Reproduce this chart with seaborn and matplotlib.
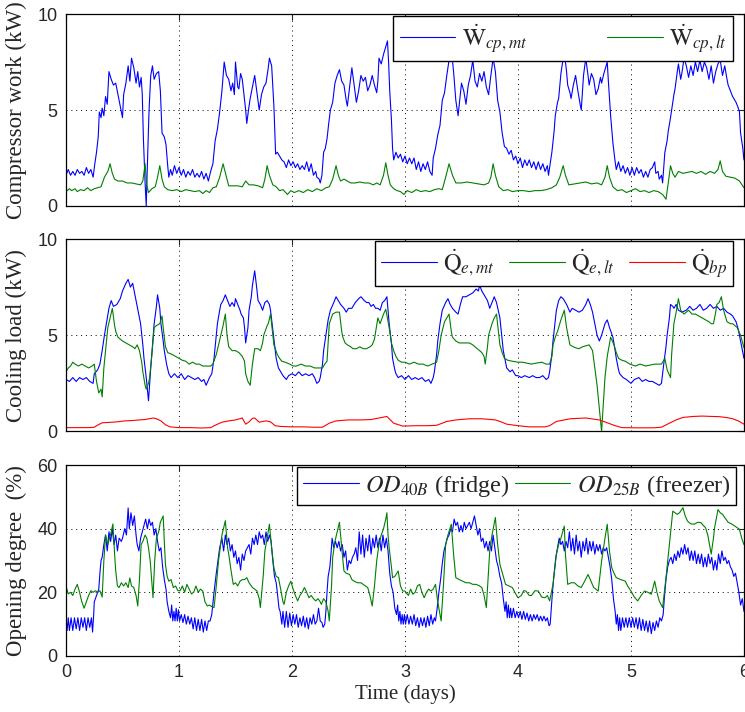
import matplotlib
matplotlib.use("Agg")
import matplotlib.pyplot as plt
import seaborn as sns

# compressor work (kW), (day, value)
w_cp_mt = [(0.00,1.6),(0.02,1.9),(0.04,1.6),(0.06,1.8),(0.08,1.6),(0.10,1.9),(0.12,1.7),(0.14,1.8),(0.16,1.6),(0.18,2.0),(0.20,1.7),(0.22,1.9),(0.24,1.5),(0.255,2.2),(0.27,2.8),(0.285,3.6),(0.295,4.9),(0.31,4.6),(0.32,5.1),(0.335,4.7),(0.35,5.7),(0.365,5.3),(0.38,7.0),(0.40,6.6),(0.42,6.3),(0.44,6.4),(0.46,5.8),(0.48,5.2),(0.50,4.6),(0.51,5.8),(0.53,6.4),(0.55,7.3),(0.565,6.5),(0.58,7.7),(0.60,7.2),(0.62,6.4),(0.635,7.0),(0.65,6.2),(0.665,6.7),(0.675,5.8),(0.685,3.5),(0.70,1.2),(0.71,0.0),(0.72,2.1),(0.735,5.0),(0.75,6.8),(0.765,7.3),(0.78,6.6),(0.80,6.9),(0.82,7.0),(0.835,6.0),(0.85,3.8),(0.87,3.6),(0.885,3.2),(0.90,2.1),(0.91,1.5),(0.925,1.9),(0.94,1.6),(0.96,2.1),(0.98,1.7),(1.00,2.0),(1.02,1.6),(1.04,1.9),(1.06,1.5),(1.08,1.8),(1.10,1.6),(1.12,1.9),(1.14,1.5),(1.16,1.7),(1.18,1.5),(1.20,1.8),(1.22,1.4),(1.24,1.7),(1.26,1.3),(1.28,1.8),(1.30,2.2),(1.32,3.4),(1.34,4.0),(1.36,4.9),(1.38,6.0),(1.40,7.5),(1.42,6.8),(1.44,6.6),(1.46,6.0),(1.475,6.4),(1.49,5.8),(1.50,7.5),(1.52,6.2),(1.53,6.1),(1.545,6.9),(1.56,6.6),(1.58,5.5),(1.59,5.0),(1.60,4.3),(1.615,5.0),(1.63,5.6),(1.65,6.2),(1.67,6.8),(1.69,5.9),(1.71,5.0),(1.73,5.8),(1.75,6.2),(1.77,6.4),(1.79,7.2),(1.80,7.7),(1.82,7.3),(1.84,5.2),(1.855,2.7),(1.87,2.8),(1.89,2.6),(1.91,2.4),(1.93,2.3),(1.95,2.0),(1.97,2.4),(1.99,2.1),(2.01,2.3),(2.03,2.0),(2.05,2.2),(2.07,1.9),(2.09,2.1),(2.11,1.9),(2.13,2.3),(2.15,1.8),(2.17,2.2),(2.19,1.6),(2.21,1.8),(2.22,1.5),(2.24,1.4),(2.25,1.2),(2.265,1.6),(2.28,2.8),(2.295,3.0),(2.31,3.5),(2.325,4.3),(2.34,5.0),(2.36,5.4),(2.38,6.4),(2.40,6.8),(2.42,7.1),(2.44,6.5),(2.46,6.3),(2.48,5.5),(2.49,5.2),(2.51,6.2),(2.53,7.2),(2.55,6.3),(2.57,5.4),(2.59,6.0),(2.61,6.8),(2.63,6.5),(2.65,6.7),(2.67,6.0),(2.69,6.3),(2.71,6.8),(2.73,6.3),(2.75,5.9),(2.76,6.5),(2.77,7.7),(2.79,7.4),(2.81,7.9),(2.83,8.3),(2.845,8.6),(2.855,7.5),(2.865,6.0),(2.88,4.5),(2.89,3.0),(2.90,2.4),(2.92,2.8),(2.94,2.5),(2.96,2.7),(2.98,2.3),(3.00,2.6),(3.02,2.2),(3.04,2.5),(3.06,2.2),(3.08,2.5),(3.10,1.9),(3.12,2.3),(3.14,1.8),(3.16,2.2),(3.18,1.9),(3.20,2.3),(3.22,1.8),(3.24,1.6),(3.25,2.5),(3.27,3.0),(3.29,3.7),(3.31,4.2),(3.33,5.5),(3.35,5.9),(3.37,6.8),(3.39,7.6),(3.41,8.2),(3.43,7.0),(3.45,5.5),(3.47,4.7),(3.49,5.8),(3.50,6.4),(3.52,6.0),(3.54,5.3),(3.56,6.3),(3.58,6.8),(3.60,7.6),(3.62,6.5),(3.64,6.2),(3.66,6.9),(3.68,6.5),(3.70,7.0),(3.72,6.2),(3.74,5.8),(3.76,6.8),(3.78,7.7),(3.80,7.0),(3.82,5.5),(3.84,4.9),(3.86,3.8),(3.88,3.1),(3.90,3.0),(3.92,2.7),(3.94,2.9),(3.96,2.4),(3.98,2.6),(4.00,2.2),(4.02,2.5),(4.04,2.0),(4.06,2.4),(4.08,2.1),(4.10,2.4),(4.12,2.0),(4.14,2.3),(4.16,1.9),(4.18,2.3),(4.20,1.9),(4.22,2.2),(4.24,1.8),(4.26,2.1),(4.27,1.6),(4.29,2.4),(4.30,2.8),(4.32,3.9),(4.33,4.7),(4.35,5.4),(4.36,5.6),(4.38,6.9),(4.39,7.3),(4.41,8.0),(4.43,7.0),(4.44,6.3),(4.46,5.9),(4.47,5.6),(4.49,6.3),(4.51,6.8),(4.53,6.0),(4.55,5.3),(4.56,5.0),(4.58,6.8),(4.60,7.7),(4.62,6.8),(4.63,6.3),(4.65,6.9),(4.67,6.6),(4.69,5.8),(4.71,6.1),(4.73,6.7),(4.74,6.4),(4.76,6.9),(4.79,7.5),(4.80,6.5),(4.82,4.7),(4.84,3.3),(4.86,2.3),(4.87,1.9),(4.89,2.3),(4.91,1.8),(4.93,2.1),(4.95,1.7),(4.97,2.0),(4.99,1.6),(5.01,2.0),(5.03,1.6),(5.05,2.0),(5.07,1.7),(5.09,1.9),(5.11,1.5),(5.13,1.8),(5.15,1.5),(5.17,1.9),(5.19,2.0),(5.21,2.3),(5.22,1.7),(5.24,1.8),(5.25,1.4),(5.27,1.6),(5.28,1.2),(5.29,2.0),(5.30,2.8),(5.32,3.4),(5.33,3.9),(5.35,4.6),(5.36,5.0),(5.38,5.8),(5.39,6.1),(5.41,7.0),(5.42,7.4),(5.44,6.6),(5.45,6.9),(5.47,7.7),(5.49,7.3),(5.51,6.7),(5.53,7.3),(5.55,6.8),(5.57,7.5),(5.59,7.0),(5.61,7.6),(5.63,7.0),(5.65,7.5),(5.67,7.2),(5.69,6.6),(5.71,7.3),(5.73,6.4),(5.75,7.0),(5.77,7.4),(5.79,7.6),(5.81,6.8),(5.83,7.3),(5.85,6.6),(5.86,6.3),(5.88,6.0),(5.90,5.7),(5.92,5.5),(5.93,5.4),(5.95,5.1),(5.96,4.9),(5.97,3.8),(5.99,3.0),(6.00,2.4)]
w_cp_lt = [(0.00,0.75),(0.03,0.9),(0.05,0.8),(0.08,0.9),(0.10,0.75),(0.13,0.85),(0.16,0.8),(0.19,0.95),(0.22,0.8),(0.25,0.9),(0.28,0.95),(0.31,1.0),(0.34,1.5),(0.37,1.8),(0.39,2.2),(0.41,1.7),(0.43,1.4),(0.46,1.3),(0.50,1.3),(0.54,1.2),(0.58,1.2),(0.62,1.15),(0.66,1.1),(0.68,1.3),(0.70,2.2),(0.715,1.1),(0.73,0.7),(0.76,0.9),(0.79,1.0),(0.81,1.5),(0.83,2.1),(0.85,1.4),(0.87,1.0),(0.90,0.85),(0.94,0.8),(0.98,0.85),(1.02,0.75),(1.06,0.85),(1.10,0.8),(1.14,0.75),(1.18,0.8),(1.21,0.65),(1.24,0.8),(1.27,0.7),(1.30,0.95),(1.33,1.0),(1.36,1.5),(1.39,2.2),(1.42,1.5),(1.44,1.05),(1.48,1.05),(1.52,1.05),(1.56,1.0),(1.59,1.3),(1.62,1.1),(1.66,1.1),(1.70,1.05),(1.74,0.95),(1.76,1.4),(1.78,2.1),(1.80,1.6),(1.83,1.1),(1.86,1.0),(1.89,0.8),(1.92,0.85),(1.96,0.6),(1.99,0.8),(2.02,0.7),(2.06,0.8),(2.10,0.7),(2.14,0.85),(2.18,0.75),(2.22,0.9),(2.26,0.8),(2.30,0.95),(2.33,1.0),(2.36,1.4),(2.39,2.1),(2.41,1.6),(2.43,1.3),(2.46,1.4),(2.49,1.3),(2.52,1.2),(2.56,1.2),(2.60,1.25),(2.64,1.2),(2.68,1.2),(2.72,1.1),(2.75,1.2),(2.78,1.1),(2.81,1.6),(2.83,2.25),(2.85,1.6),(2.87,1.1),(2.90,0.9),(2.93,0.8),(2.96,0.75),(2.99,0.6),(3.02,0.8),(3.06,0.7),(3.10,0.85),(3.14,0.75),(3.18,0.8),(3.22,0.75),(3.26,0.85),(3.30,0.9),(3.33,0.85),(3.36,1.5),(3.39,2.2),(3.42,1.6),(3.45,1.2),(3.50,1.2),(3.55,1.25),(3.60,1.2),(3.65,1.15),(3.70,1.1),(3.74,1.2),(3.76,1.5),(3.78,2.2),(3.80,1.6),(3.83,1.0),(3.87,0.8),(3.91,0.85),(3.95,0.75),(4.00,0.8),(4.05,0.8),(4.10,0.75),(4.15,0.8),(4.20,0.8),(4.25,0.85),(4.30,0.95),(4.34,1.1),(4.37,1.5),(4.40,2.1),(4.42,1.6),(4.45,1.1),(4.50,1.15),(4.55,1.2),(4.60,1.25),(4.65,1.15),(4.70,1.2),(4.74,1.1),(4.77,1.5),(4.79,2.1),(4.81,1.5),(4.84,1.0),(4.88,0.8),(4.92,0.85),(4.96,0.7),(5.00,0.8),(5.04,0.9),(5.08,0.75),(5.12,0.8),(5.16,0.7),(5.20,0.8),(5.24,0.75),(5.28,0.6),(5.31,0.35),(5.33,1.2),(5.35,2.1),(5.37,1.7),(5.39,1.5),(5.42,1.8),(5.46,1.7),(5.50,1.75),(5.54,1.8),(5.58,1.7),(5.62,1.8),(5.66,1.65),(5.70,1.8),(5.74,1.7),(5.77,1.9),(5.79,2.35),(5.81,1.8),(5.84,1.55),(5.88,1.5),(5.92,1.45),(5.96,1.3),(6.00,0.95)]

# cooling load (kW)
q_e_mt = [(0.00,2.7),(0.03,2.6),(0.06,2.8),(0.09,2.6),(0.12,2.8),(0.15,2.7),(0.18,2.8),(0.21,2.6),(0.24,2.5),(0.25,3.0),(0.28,3.2),(0.30,3.5),(0.32,4.2),(0.34,5.0),(0.36,5.7),(0.38,6.4),(0.40,6.8),(0.42,6.5),(0.45,6.6),(0.48,6.9),(0.50,7.3),(0.53,7.7),(0.55,7.9),(0.57,7.5),(0.59,7.7),(0.61,7.1),(0.62,6.8),(0.64,6.2),(0.66,5.6),(0.68,4.5),(0.69,3.8),(0.71,2.8),(0.73,1.6),(0.75,3.3),(0.77,4.8),(0.78,5.6),(0.80,6.5),(0.81,7.1),(0.83,6.4),(0.84,5.6),(0.86,4.7),(0.87,4.2),(0.89,3.5),(0.91,3.0),(0.93,2.8),(0.96,3.0),(0.99,2.8),(1.02,3.0),(1.05,2.7),(1.08,2.9),(1.11,2.8),(1.14,2.7),(1.17,2.8),(1.20,2.6),(1.22,2.7),(1.24,2.4),(1.27,2.8),(1.29,3.0),(1.31,3.8),(1.33,5.0),(1.34,5.6),(1.36,6.3),(1.37,6.6),(1.39,6.8),(1.41,7.1),(1.43,6.8),(1.45,6.5),(1.47,6.7),(1.49,6.5),(1.50,6.9),(1.52,6.6),(1.54,6.3),(1.55,6.1),(1.57,5.9),(1.58,5.4),(1.59,4.6),(1.61,5.4),(1.62,6.3),(1.64,7.0),(1.65,7.6),(1.67,8.35),(1.685,7.6),(1.70,6.8),(1.72,6.6),(1.74,6.3),(1.76,6.7),(1.78,6.8),(1.80,6.6),(1.81,6.3),(1.83,5.3),(1.86,3.8),(1.88,3.3),(1.90,3.1),(1.92,2.9),(1.95,2.7),(1.97,2.9),(2.00,3.0),(2.03,2.9),(2.06,3.1),(2.09,2.9),(2.12,3.0),(2.15,2.9),(2.18,3.0),(2.20,2.8),(2.22,2.5),(2.24,2.6),(2.25,2.8),(2.27,3.5),(2.28,4.2),(2.30,5.0),(2.32,5.8),(2.34,6.3),(2.37,6.7),(2.39,7.0),(2.41,6.8),(2.43,6.6),(2.46,6.4),(2.48,6.2),(2.50,6.4),(2.53,6.4),(2.56,6.7),(2.59,6.9),(2.61,7.0),(2.64,6.8),(2.66,6.7),(2.68,6.7),(2.70,6.5),(2.72,6.6),(2.74,6.4),(2.76,6.4),(2.78,6.3),(2.80,6.7),(2.82,6.8),(2.84,7.0),(2.86,5.6),(2.88,4.6),(2.89,3.8),(2.91,3.2),(2.92,3.0),(2.94,2.8),(2.97,2.9),(3.00,2.7),(3.03,2.9),(3.06,2.7),(3.09,2.8),(3.12,2.7),(3.15,2.8),(3.18,2.6),(3.21,2.7),(3.23,2.5),(3.25,2.8),(3.26,3.1),(3.28,4.0),(3.29,4.7),(3.31,5.6),(3.33,6.3),(3.36,6.7),(3.38,6.9),(3.40,6.6),(3.42,6.4),(3.45,6.2),(3.47,6.1),(3.49,6.6),(3.51,7.0),(3.54,7.0),(3.57,7.1),(3.60,7.2),(3.63,7.4),(3.65,7.3),(3.66,7.6),(3.68,7.3),(3.70,7.1),(3.73,6.8),(3.75,6.4),(3.77,6.7),(3.79,7.0),(3.81,6.7),(3.84,5.9),(3.86,4.8),(3.87,4.2),(3.89,3.6),(3.90,3.3),(3.93,3.1),(3.95,3.2),(3.98,2.9),(4.00,2.9),(4.03,2.8),(4.06,2.9),(4.10,2.8),(4.13,2.9),(4.16,2.8),(4.19,2.8),(4.22,2.9),(4.25,2.7),(4.27,2.8),(4.28,3.1),(4.30,4.0),(4.31,4.7),(4.33,5.8),(4.34,6.3),(4.36,6.8),(4.38,7.0),(4.40,6.9),(4.43,6.6),(4.46,6.2),(4.48,6.4),(4.51,6.3),(4.54,6.2),(4.57,6.3),(4.60,6.6),(4.62,6.9),(4.64,6.6),(4.66,6.2),(4.68,5.6),(4.70,5.0),(4.72,4.7),(4.74,5.0),(4.75,5.2),(4.77,5.6),(4.79,5.8),(4.81,5.4),(4.84,4.9),(4.86,4.2),(4.87,3.8),(4.89,3.2),(4.90,3.0),(4.93,2.8),(4.96,2.7),(4.98,2.6),(5.00,2.5),(5.03,2.7),(5.07,2.8),(5.10,2.6),(5.13,2.7),(5.16,2.6),(5.19,2.6),(5.22,2.5),(5.25,2.4),(5.27,2.5),(5.29,3.5),(5.31,4.4),(5.32,5.0),(5.34,5.9),(5.35,6.6),(5.37,6.5),(5.38,6.4),(5.40,6.6),(5.42,6.3),(5.45,6.2),(5.49,6.3),(5.52,6.5),(5.55,6.3),(5.58,6.4),(5.61,6.6),(5.64,6.3),(5.67,6.4),(5.70,6.6),(5.73,6.4),(5.76,6.5),(5.79,6.3),(5.82,6.4),(5.85,6.2),(5.88,6.1),(5.90,6.0),(5.92,5.8),(5.93,5.7),(5.95,5.3),(5.96,5.0),(5.98,4.4),(6.00,3.8)]
q_e_lt = [(0.00,3.1),(0.02,3.3),(0.04,3.4),(0.06,3.6),(0.08,3.5),(0.11,3.4),(0.14,3.5),(0.17,3.4),(0.20,3.3),(0.23,3.4),(0.25,3.5),(0.27,2.6),(0.29,2.0),(0.31,2.2),(0.32,1.8),(0.335,3.3),(0.35,4.2),(0.37,5.4),(0.39,5.9),(0.41,6.4),(0.43,5.5),(0.44,5.2),(0.46,4.9),(0.48,4.8),(0.50,4.7),(0.53,4.6),(0.56,4.5),(0.59,4.4),(0.61,4.3),(0.63,4.5),(0.65,4.2),(0.67,3.6),(0.68,3.1),(0.70,2.4),(0.71,2.2),(0.73,2.5),(0.74,2.8),(0.76,4.0),(0.78,5.4),(0.80,5.5),(0.83,5.6),(0.85,6.0),(0.86,5.4),(0.88,4.4),(0.90,4.1),(0.94,4.0),(0.97,3.9),(1.00,3.8),(1.03,3.7),(1.06,3.65),(1.09,3.5),(1.12,3.6),(1.15,3.5),(1.18,3.5),(1.21,3.4),(1.25,3.4),(1.28,3.4),(1.30,3.5),(1.33,4.0),(1.35,4.5),(1.37,5.0),(1.39,5.5),(1.41,6.1),(1.425,5.0),(1.44,4.4),(1.47,4.2),(1.50,4.2),(1.53,4.1),(1.56,3.9),(1.58,3.65),(1.59,3.0),(1.61,2.6),(1.63,2.4),(1.65,3.5),(1.67,4.3),(1.70,4.3),(1.72,4.2),(1.74,4.6),(1.75,5.0),(1.78,5.5),(1.79,5.6),(1.81,6.1),(1.83,5.0),(1.84,4.5),(1.87,4.0),(1.89,3.8),(1.91,3.65),(1.94,3.6),(1.98,3.5),(2.01,3.4),(2.04,3.4),(2.08,3.5),(2.12,3.4),(2.16,3.4),(2.20,3.3),(2.24,3.3),(2.27,3.3),(2.29,3.5),(2.31,3.65),(2.33,5.6),(2.36,6.1),(2.39,6.2),(2.42,6.2),(2.44,5.2),(2.45,4.9),(2.47,4.6),(2.49,4.5),(2.52,4.4),(2.54,4.3),(2.57,4.3),(2.60,4.4),(2.63,4.3),(2.66,4.3),(2.69,4.4),(2.71,4.5),(2.73,4.8),(2.76,5.9),(2.78,5.6),(2.81,6.1),(2.83,6.35),(2.85,5.7),(2.86,5.4),(2.88,4.6),(2.90,4.2),(2.92,3.9),(2.94,3.7),(2.97,3.6),(3.00,3.6),(3.04,3.5),(3.08,3.6),(3.12,3.5),(3.16,3.5),(3.20,3.4),(3.24,3.5),(3.28,3.6),(3.30,4.2),(3.32,5.0),(3.35,5.7),(3.39,6.1),(3.41,5.2),(3.42,4.9),(3.45,4.7),(3.48,4.6),(3.51,4.6),(3.54,4.6),(3.57,4.6),(3.60,4.5),(3.63,4.35),(3.66,4.2),(3.68,4.1),(3.70,3.9),(3.71,3.5),(3.73,4.4),(3.74,5.0),(3.77,5.6),(3.79,5.9),(3.81,6.1),(3.83,5.0),(3.84,4.5),(3.86,4.1),(3.88,3.8),(3.91,3.7),(3.95,3.65),(4.00,3.6),(4.04,3.6),(4.08,3.55),(4.12,3.5),(4.16,3.55),(4.21,3.6),(4.25,3.5),(4.28,3.5),(4.30,3.9),(4.31,4.5),(4.33,4.9),(4.35,5.2),(4.38,5.8),(4.41,6.3),(4.43,5.4),(4.46,4.5),(4.49,4.4),(4.51,4.35),(4.54,4.3),(4.57,4.4),(4.60,4.45),(4.63,4.5),(4.66,4.2),(4.68,3.3),(4.70,2.4),(4.72,1.2),(4.74,0.0),(4.755,1.4),(4.77,2.8),(4.79,3.9),(4.82,4.9),(4.85,4.5),(4.87,4.1),(4.89,3.8),(4.92,3.7),(4.95,3.65),(4.99,3.5),(5.04,3.4),(5.08,3.5),(5.13,3.4),(5.17,3.45),(5.21,3.5),(5.25,3.5),(5.27,3.5),(5.30,3.8),(5.32,3.2),(5.35,2.8),(5.36,4.0),(5.38,5.6),(5.40,6.2),(5.42,6.9),(5.44,6.3),(5.47,6.1),(5.49,6.2),(5.51,6.3),(5.54,6.1),(5.57,6.1),(5.60,6.0),(5.63,5.9),(5.66,5.8),(5.69,5.7),(5.71,5.6),(5.73,5.6),(5.75,6.2),(5.76,6.6),(5.78,6.7),(5.80,7.0),(5.82,6.3),(5.85,5.7),(5.88,5.6),(5.90,5.6),(5.94,5.4),(5.97,5.0),(6.00,4.35)]
q_bp = [(0.00,0.2),(0.10,0.2),(0.20,0.2),(0.25,0.22),(0.28,0.33),(0.32,0.45),(0.38,0.47),(0.45,0.5),(0.52,0.55),(0.59,0.57),(0.65,0.6),(0.70,0.62),(0.77,0.7),(0.80,0.66),(0.84,0.55),(0.88,0.35),(0.92,0.24),(1.00,0.2),(1.10,0.2),(1.20,0.18),(1.28,0.2),(1.33,0.35),(1.38,0.48),(1.44,0.55),(1.50,0.6),(1.56,0.7),(1.59,0.38),(1.62,0.5),(1.65,0.68),(1.67,0.7),(1.71,0.48),(1.74,0.52),(1.77,0.55),(1.81,0.5),(1.85,0.3),(1.90,0.26),(2.00,0.24),(2.10,0.24),(2.20,0.22),(2.27,0.22),(2.33,0.43),(2.39,0.55),(2.50,0.6),(2.60,0.6),(2.70,0.62),(2.77,0.7),(2.84,0.78),(2.90,0.43),(2.98,0.28),(3.10,0.3),(3.20,0.3),(3.28,0.32),(3.37,0.52),(3.45,0.6),(3.57,0.66),(3.68,0.66),(3.80,0.6),(3.85,0.5),(3.90,0.38),(4.00,0.3),(4.10,0.24),(4.24,0.24),(4.28,0.3),(4.34,0.52),(4.46,0.66),(4.60,0.7),(4.72,0.6),(4.80,0.43),(4.86,0.3),(4.92,0.2),(5.05,0.19),(5.20,0.19),(5.27,0.22),(5.34,0.43),(5.40,0.6),(5.46,0.73),(5.55,0.78),(5.63,0.8),(5.72,0.78),(5.78,0.77),(5.85,0.72),(5.90,0.66),(5.95,0.55),(6.00,0.38)]

# valve opening degree (%)
od_40b = [(0.00,12),(0.01,8),(0.02,12),(0.03,8),(0.045,12),(0.06,8),(0.075,12),(0.09,8.5),(0.105,12),(0.12,8),(0.135,12),(0.15,9),(0.165,12),(0.18,8),(0.195,12),(0.21,9),(0.225,12),(0.235,7.5),(0.245,13),(0.25,17),(0.27,19),(0.29,21),(0.30,26),(0.31,30),(0.32,31),(0.335,35),(0.35,38),(0.365,33),(0.38,39),(0.395,36),(0.41,40),(0.425,35),(0.44,38),(0.455,33),(0.47,37),(0.49,36),(0.50,37),(0.52,40),(0.535,38),(0.55,46.5),(0.56,40),(0.575,45),(0.59,41),(0.605,44),(0.62,38),(0.63,35),(0.645,33),(0.66,37),(0.675,39),(0.69,41),(0.705,43),(0.72,40),(0.735,43),(0.75,41),(0.765,42),(0.78,38),(0.795,40),(0.81,36),(0.825,33),(0.84,34),(0.855,28),(0.87,24),(0.885,21),(0.895,17),(0.91,14),(0.925,12),(0.935,16),(0.945,11),(0.955,14),(0.965,11),(0.975,15),(0.985,11),(0.995,14.5),(1.005,11),(1.02,13),(1.035,10.5),(1.05,13),(1.065,10),(1.08,12.5),(1.095,10),(1.11,12),(1.125,8.5),(1.14,12),(1.155,8),(1.17,11.5),(1.185,8),(1.20,11.5),(1.215,7.5),(1.23,11),(1.245,8),(1.26,11),(1.275,11),(1.29,13),(1.31,20),(1.33,26),(1.345,30),(1.36,34),(1.38,37),(1.395,33),(1.41,38),(1.425,35),(1.44,37),(1.455,33),(1.47,35),(1.485,31),(1.50,33),(1.515,29),(1.53,31),(1.545,27),(1.56,32),(1.575,30),(1.59,33),(1.605,34),(1.62,35),(1.635,32),(1.65,37),(1.665,35),(1.68,38),(1.695,35),(1.71,39),(1.725,37),(1.74,38),(1.755,35),(1.77,39),(1.785,36),(1.80,38),(1.815,36),(1.83,30),(1.845,25),(1.86,23),(1.87,20),(1.885,15),(1.895,14),(1.91,10),(1.92,14),(1.935,9),(1.95,14),(1.965,9),(1.98,13.5),(1.995,9.5),(2.01,13),(2.025,10),(2.04,13),(2.055,9),(2.07,12),(2.085,9.5),(2.10,12.5),(2.115,9),(2.13,12),(2.145,8.5),(2.16,12),(2.175,10),(2.19,13),(2.205,10),(2.22,11),(2.235,15),(2.25,11),(2.265,10.5),(2.275,9),(2.29,10),(2.30,14),(2.31,20),(2.32,25),(2.335,28),(2.345,32),(2.355,37),(2.37,34),(2.385,36),(2.40,34),(2.415,36),(2.43,33),(2.445,35),(2.46,31),(2.475,33),(2.49,27),(2.505,30),(2.52,29),(2.535,31),(2.55,32),(2.565,34),(2.58,30),(2.595,39),(2.61,32),(2.625,38),(2.64,31),(2.655,37),(2.67,33),(2.685,38),(2.70,32),(2.715,37),(2.73,34),(2.745,38),(2.76,34),(2.775,37),(2.79,33),(2.805,38),(2.82,34),(2.835,37),(2.85,33),(2.865,26),(2.88,22),(2.895,20),(2.91,15),(2.925,13),(2.935,16),(2.945,11),(2.955,14),(2.965,10),(2.975,13),(2.985,10),(2.995,13),(3.005,10),(3.02,13),(3.035,10),(3.05,12.5),(3.065,10),(3.08,13),(3.095,9.5),(3.11,12),(3.125,9),(3.14,12),(3.155,9.5),(3.17,12),(3.185,9),(3.20,12.5),(3.215,9.5),(3.23,13),(3.245,10),(3.26,12),(3.27,11),(3.285,15),(3.30,20),(3.315,24),(3.33,29),(3.345,33),(3.36,35),(3.375,37),(3.39,38),(3.405,40),(3.42,39),(3.435,43),(3.45,41),(3.465,42),(3.48,39),(3.495,41),(3.51,39),(3.525,42),(3.54,40),(3.555,41),(3.57,42),(3.585,40),(3.60,42),(3.615,44),(3.63,41),(3.645,38),(3.66,40),(3.675,36),(3.69,37),(3.705,34),(3.72,36),(3.735,33),(3.75,36),(3.765,33),(3.78,38),(3.795,34),(3.81,30),(3.825,28),(3.84,25),(3.855,23),(3.87,18),(3.885,14),(3.895,17),(3.905,12),(3.915,16),(3.925,12),(3.935,15),(3.945,12),(3.96,15),(3.975,12),(3.99,14),(4.005,12),(4.02,14),(4.035,11.5),(4.05,14),(4.065,11.5),(4.08,13.5),(4.095,11),(4.11,13),(4.125,11),(4.14,13),(4.155,11.5),(4.17,13),(4.185,11),(4.20,12.5),(4.215,11),(4.23,12.5),(4.245,11),(4.26,12),(4.275,9.5),(4.285,10),(4.295,15),(4.305,20),(4.32,26),(4.335,31),(4.35,34),(4.365,37),(4.38,35),(4.395,36),(4.41,33),(4.425,36),(4.44,34),(4.455,39),(4.47,33),(4.485,37),(4.50,32),(4.515,38),(4.53,33),(4.545,36),(4.56,31),(4.575,36),(4.59,33),(4.605,37),(4.62,32),(4.635,36),(4.65,33),(4.665,36),(4.68,32),(4.695,35),(4.71,33),(4.725,35),(4.74,32),(4.755,34),(4.77,33),(4.785,34),(4.80,31),(4.815,28),(4.83,24),(4.845,18),(4.86,14),(4.87,10),(4.88,13),(4.89,8),(4.90,12),(4.91,8),(4.925,12),(4.94,9),(4.955,12),(4.97,9),(4.985,12),(5.00,9),(5.015,12),(5.03,9),(5.045,12),(5.06,8.5),(5.075,12),(5.09,8),(5.105,11.5),(5.12,8),(5.135,11),(5.15,7.5),(5.165,11),(5.18,7),(5.195,10.5),(5.21,8),(5.225,11),(5.24,9),(5.255,12),(5.27,11),(5.285,13),(5.295,18),(5.31,24),(5.325,28),(5.34,30),(5.355,31),(5.37,29),(5.385,32),(5.40,30),(5.415,33),(5.43,31),(5.445,34),(5.46,32),(5.475,35),(5.49,32),(5.505,34),(5.52,30),(5.535,33),(5.55,30),(5.565,33),(5.58,29),(5.595,32),(5.61,29),(5.625,32),(5.64,28),(5.655,31),(5.67,28),(5.685,32),(5.70,29),(5.715,31),(5.73,27),(5.745,30),(5.76,27),(5.775,32),(5.79,29),(5.805,33),(5.82,30),(5.835,31),(5.85,29),(5.865,30),(5.88,28),(5.895,27),(5.91,25),(5.925,26),(5.94,23),(5.955,20),(5.97,16),(5.985,18),(6.00,14)]
od_25b = [(0.00,22),(0.02,19.5),(0.04,20),(0.06,19),(0.08,21),(0.10,22.5),(0.12,20),(0.14,17),(0.16,15),(0.18,17),(0.20,19),(0.22,20.5),(0.24,20),(0.26,20.5),(0.28,20),(0.30,20.5),(0.32,18.5),(0.335,30),(0.35,38),(0.37,35),(0.385,37),(0.40,39),(0.415,41.5),(0.43,32),(0.44,26.7),(0.455,22),(0.47,21.5),(0.49,23),(0.51,22),(0.53,23),(0.55,21.5),(0.565,24.5),(0.58,22),(0.60,21.5),(0.62,19),(0.635,15.7),(0.65,24),(0.665,35),(0.68,36),(0.70,38),(0.715,37),(0.73,34),(0.745,30),(0.77,18.3),(0.785,30),(0.80,37),(0.82,39),(0.835,42),(0.86,44),(0.87,36),(0.88,28.8),(0.895,25),(0.91,23.5),(0.93,24),(0.95,21.5),(0.97,22),(0.99,20.5),(1.01,20.5),(1.03,22),(1.05,20),(1.07,22.5),(1.09,21),(1.11,19.5),(1.13,20),(1.15,22),(1.17,20),(1.19,21),(1.21,20.4),(1.23,17),(1.25,15.7),(1.27,16),(1.29,15.5),(1.31,15.2),(1.33,22),(1.35,30),(1.38,38),(1.41,42.5),(1.43,34),(1.44,32),(1.46,27),(1.48,22.5),(1.50,23),(1.52,22),(1.54,23.5),(1.56,24),(1.58,24),(1.60,24.6),(1.62,23),(1.65,21.5),(1.67,21),(1.69,20.4),(1.71,18),(1.72,15.2),(1.745,25),(1.76,33),(1.78,37),(1.80,41.4),(1.82,34),(1.84,27.7),(1.86,25),(1.88,24.6),(1.90,21),(1.92,17),(1.93,16.2),(1.95,20),(1.97,22),(1.99,23.5),(2.01,21),(2.03,19),(2.05,17.3),(2.07,19),(2.09,20),(2.11,21.5),(2.13,20),(2.15,18.3),(2.17,19),(2.19,18),(2.21,17.3),(2.23,18),(2.25,17),(2.26,16.2),(2.28,18),(2.30,17),(2.32,14),(2.33,11),(2.35,22),(2.36,30.9),(2.38,36),(2.40,39),(2.42,42),(2.44,34),(2.46,26.7),(2.48,26),(2.51,25.6),(2.53,24),(2.55,23.5),(2.58,23),(2.61,23),(2.63,22.5),(2.65,22),(2.67,21.5),(2.69,19),(2.71,15.7),(2.73,22),(2.75,30),(2.77,35),(2.79,38),(2.81,40),(2.83,43),(2.84,45),(2.85,38),(2.86,34),(2.88,28),(2.89,24.6),(2.91,25),(2.94,26.7),(2.96,22),(2.98,20.4),(3.00,20.4),(3.03,19),(3.05,21),(3.07,19.4),(3.09,20),(3.11,22),(3.13,22.5),(3.15,20),(3.17,18.3),(3.19,20),(3.21,21),(3.23,20.4),(3.25,21),(3.27,22.5),(3.29,17),(3.32,11),(3.34,22),(3.36,35),(3.38,38),(3.41,41.4),(3.43,32),(3.45,24.6),(3.48,24),(3.51,23.5),(3.54,23),(3.57,23),(3.60,22.5),(3.63,22.5),(3.66,22),(3.68,21.5),(3.70,19),(3.72,15.2),(3.75,33),(3.77,38),(3.80,43.5),(3.82,35),(3.84,28.8),(3.87,25),(3.89,22.5),(3.92,22),(3.95,21.5),(3.98,19.5),(4.00,18.3),(4.03,19),(4.05,20.5),(4.07,20.4),(4.10,19),(4.12,19),(4.15,20.5),(4.18,20.4),(4.21,18.5),(4.24,18.3),(4.26,19),(4.28,17.3),(4.31,22.5),(4.34,32),(4.36,35),(4.38,37),(4.41,40.8),(4.42,32),(4.44,22.5),(4.47,23),(4.50,23),(4.53,22),(4.56,21.5),(4.59,23.5),(4.62,25.6),(4.64,24),(4.67,21.5),(4.69,21),(4.71,20.4),(4.74,29.8),(4.77,37),(4.79,41.4),(4.81,33),(4.83,27.7),(4.85,26),(4.87,24.6),(4.91,24),(4.95,23.5),(4.97,22),(5.00,20.4),(5.03,18.5),(5.06,17.3),(5.09,19),(5.12,20.4),(5.15,20),(5.18,19.4),(5.21,23.5),(5.23,20),(5.25,17.3),(5.28,15.2),(5.31,24.6),(5.34,35),(5.36,42),(5.37,45.5),(5.39,45),(5.41,44.5),(5.43,45),(5.46,46.6),(5.48,44),(5.50,42.4),(5.53,41.5),(5.56,41.4),(5.59,42),(5.62,41.9),(5.64,41),(5.66,40.3),(5.68,38),(5.71,32),(5.73,37),(5.74,40.3),(5.76,44),(5.77,46),(5.79,45),(5.81,44.5),(5.84,43),(5.86,42),(5.89,41.5),(5.92,40.8),(5.94,40.3),(5.96,39.8),(5.98,37),(6.00,35)]

sns.set_style("white")
plt.rcParams['font.family'] = ['Liberation Sans', 'DejaVu Sans']
plt.rcParams['mathtext.fontset'] = 'stix'

SERIF = 'Liberation Serif'
BLUE, GREEN, RED = '#0000ff', '#008000', '#ff0000'

fig = plt.figure(figsize=(7.45, 7.12), dpi=100)
ax1 = fig.add_axes([0.0886, 0.7107, 0.9100, 0.2696])
ax2 = fig.add_axes([0.0886, 0.3940, 0.9100, 0.2703])
ax3 = fig.add_axes([0.0886, 0.0787, 0.9100, 0.2682])


def draw(ax, series, color, label):
    t, v = zip(*series)
    sns.lineplot(x=list(t), y=list(v), ax=ax, color=color, lw=0.8,
                 label=label, estimator=None, sort=False)


draw(ax1, w_cp_mt, BLUE, r'$\dot{\mathrm{W}}_{cp,mt}$')
draw(ax1, w_cp_lt, GREEN, r'$\dot{\mathrm{W}}_{cp,lt}$')
draw(ax2, q_e_mt, BLUE, r'$\dot{\mathrm{Q}}_{e,mt}$')
draw(ax2, q_e_lt, GREEN, r'$\dot{\mathrm{Q}}_{e,lt}$')
draw(ax2, q_bp, RED, r'$\dot{\mathrm{Q}}_{bp}$')
draw(ax3, od_40b, BLUE, r'$OD_{40B}$ (fridge)')
draw(ax3, od_25b, GREEN, r'$OD_{25B}$ (freezer)')

ax1.set_ylim(0, 10)
ax2.set_ylim(0, 10)
ax3.set_ylim(0, 60)
ax1.set_yticks([0, 5, 10])
ax2.set_yticks([0, 5, 10])
ax3.set_yticks([0, 20, 40, 60])

ax1.set_ylabel('Compressor work (kW)', fontfamily=SERIF, fontsize=16.5)
ax2.set_ylabel('Cooling load (kW)', fontfamily=SERIF, fontsize=16.5)
ax3.set_ylabel('Opening degree  (%)', fontfamily=SERIF, fontsize=16.5)
ax3.set_xlabel('Time (days)', fontfamily=SERIF, fontsize=15, labelpad=2)

# legend box per panel (axes fraction): columns, left, width
leg_cfg = {ax1: (2, 0.483, 0.501), ax2: (3, 0.456, 0.528), ax3: (2, 0.341, 0.648)}
for ax in (ax1, ax2, ax3):
    ax.set_xlim(0, 6)
    ax.set_xticks(range(7))
    ax.grid(True, color='black', linestyle=(0, (1, 4)), linewidth=0.7)
    ax.tick_params(direction='in', top=True, right=True, length=4,
                   labelsize=13, pad=6)
    ax.yaxis.set_label_coords(-0.057, 0.5)
    for s in ax.spines.values():
        s.set_color('black')
        s.set_linewidth(0.9)
    ncol, x0, w = leg_cfg[ax]
    leg = ax.legend(loc='upper left', ncol=ncol, mode='expand',
                    bbox_to_anchor=(x0, 0.745, w, 0.245),
                    fancybox=False, framealpha=1, edgecolor='black',
                    handlelength=2.3, columnspacing=0.3, handletextpad=0.25,
                    borderaxespad=0.0, borderpad=0.25,
                    prop={'family': SERIF, 'size': 17.5})
    leg.get_frame().set_linewidth(1.0)

ax1.tick_params(labelbottom=False)
ax2.tick_params(labelbottom=False)

fig.savefig('out.png', dpi=100)
